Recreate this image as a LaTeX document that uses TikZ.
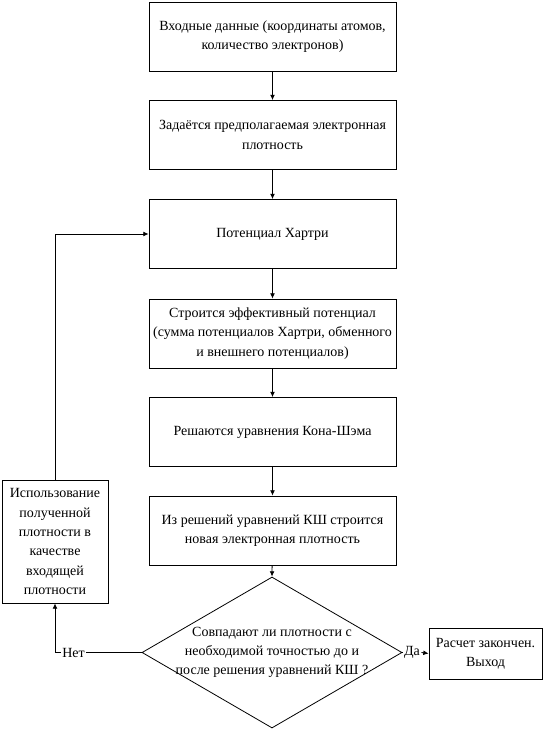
\documentclass[tikz,border=0pt]{standalone}
\usepackage{fontspec}
\setmainfont{Liberation Serif}
\usetikzlibrary{arrows.meta,shapes.geometric}

\begin{document}
\begin{tikzpicture}[x=0.75pt,y=-0.75pt,
  txt/.style={font=\fontsize{10.5pt}{14.5pt}\selectfont,align=center},
  box/.style={txt,draw,line width=0.6pt,inner sep=2pt},
  stage/.style={box,minimum width=185.25pt,minimum height=51.75pt},
  flow/.style={line width=0.6pt,-{Latex[length=4pt,width=3.6pt]}},
  plain/.style={line width=0.6pt}]
\path[use as bounding box] (0,0) rectangle (546,731);
\node[stage] (input) at (272.5,36.5) {Входные данные (координаты атомов,\\количество электронов)};
\node[stage] (guess) at (272.5,135) {Задаётся предполагаемая электронная\\плотность};
\node[stage] (hartree) at (272.5,234) {Потенциал Хартри};
\node[stage] (veff) at (272.5,333.5) {Строится эффективный потенциал\\(сумма потенциалов Хартри, обменного\\и внешнего потенциалов)};
\node[stage] (ks) at (272.5,432) {Решаются уравнения Кона-Шэма};
\node[stage] (newdens) at (272.5,530.5) {Из решений уравнений КШ строится\\новая электронная плотность};
\node[draw,plain,diamond,minimum width=195pt,minimum height=113.25pt,inner sep=0pt] (check) at (272,652.5) {};
\node[txt] (checktext) at (272,652.5) {Совпадают ли плотности с\\необходимой точностью до и\\после решения уравнений КШ ?};
\node[box,minimum width=79.5pt,minimum height=92.25pt,inner sep=1pt] (reuse) at (55,541.5) {Использование\\полученной\\плотности в\\качестве\\входящей\\плотности};
\node[box,minimum width=84.75pt,minimum height=38.25pt,inner sep=1pt] (done) at (485.5,653.5) {Расчет закончен.\\Выход};
\node[txt,inner sep=1pt] (no) at (73.5,652.5) {Нет};
\node[txt,inner sep=1pt] (yes) at (412,652.5) {Да};
\draw[flow] (input) -- (guess);
\draw[flow] (guess) -- (hartree);
\draw[flow] (hartree) -- (veff);
\draw[flow] (veff) -- (ks);
\draw[flow] (ks) -- (newdens);
\draw[flow] (newdens) -- (check.north);
\draw[plain] (check.west) -- (no.east);
\draw[flow] (no.west) -| (reuse.south);
\draw[flow] (reuse.north) |- (hartree.west);
\draw[plain] (check.east) -- (yes.west);
\draw[flow] (yes.east) -- (done.west);
\end{tikzpicture}
\end{document}
